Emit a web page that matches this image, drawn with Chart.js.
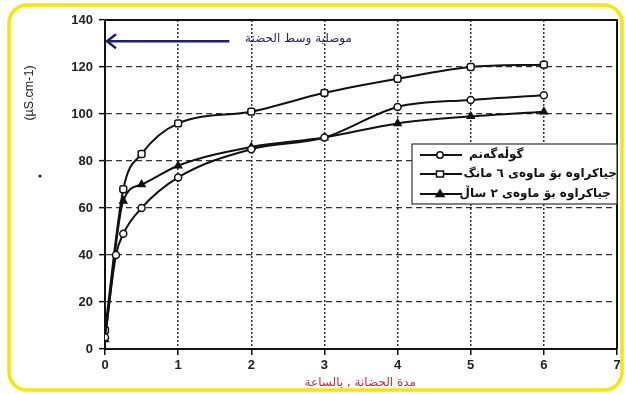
<!DOCTYPE html>
<html>
<head>
<meta charset="utf-8">
<script src="https://cdn.jsdelivr.net/npm/chart.js@4.4.1/dist/chart.umd.min.js"></script>
<style>
  html, body { margin: 0; padding: 0; background: #ffffff; }
  #wrap { width: 626px; height: 394px; }
</style>
</head>
<body>
<div id="wrap"><canvas id="c" width="626" height="394"></canvas></div>
<script>
// Incubation time (hours) against conductivity (µS.cm-1)
const seriesNames = ['گوڵەگەنم', 'جياكراوه بۆ ماوەی ٦ مانگ', 'جياكراوه بۆ ماوەی ٢ ساڵ'];

const wheatHours = [0, 0.15, 0.25, 0.5, 1, 2, 3, 4, 5, 6];
const wheatValues = [5, 40, 49, 60, 73, 85, 90, 103, 106, 108];

const sixMonthHours = [0, 0.25, 0.5, 1, 2, 3, 4, 5, 6];
const sixMonthValues = [8, 68, 83, 96, 101, 109, 115, 120, 121];

const twoYearHours = [0, 0.25, 0.5, 1, 2, 3, 4, 5, 6];
const twoYearValues = [4, 63, 70, 78, 86, 90, 96, 99, 101];

const xTicks = [0, 1, 2, 3, 4, 5, 6, 7];
const yTicks = [0, 20, 40, 60, 80, 100, 120, 140];

// conductivity of the incubation medium, marked by the arrow
const mediumLevel = 131;
const mediumArrowEnd = 1.7;
const mediumLabel = 'موصلية وسط الحضنة';
const xTitle = 'مدة الحضانة , بالساعة';
const yTitle = '(µS.cm-1)';

const pairs = (xs, ys) => xs.map((x, i) => ({ x: x, y: ys[i] }));

const lineBase = {
  borderColor: '#111',
  borderWidth: 2,
  pointBorderColor: '#111',
  pointBorderWidth: 1.5,
  pointRadius: 3.5,
  cubicInterpolationMode: 'monotone',
  fill: false
};

const datasets = [
  Object.assign({}, lineBase, {
    label: seriesNames[0], data: pairs(wheatHours, wheatValues),
    pointStyle: 'circle', pointBackgroundColor: '#fff'
  }),
  Object.assign({}, lineBase, {
    label: seriesNames[1], data: pairs(sixMonthHours, sixMonthValues),
    pointStyle: 'rectRounded', pointBackgroundColor: '#fff', pointRadius: 4
  }),
  Object.assign({}, lineBase, {
    label: seriesNames[2], data: pairs(twoYearHours, twoYearValues),
    pointStyle: 'triangle', pointBackgroundColor: '#111', pointRadius: 4
  })
];

function drawMarker(ctx, style, fill, x, y) {
  ctx.fillStyle = fill;
  ctx.strokeStyle = '#111';
  ctx.lineWidth = 1.5;
  ctx.beginPath();
  if (style === 'triangle') {
    ctx.moveTo(x, y - 4); ctx.lineTo(x + 4, y + 2.5); ctx.lineTo(x - 4, y + 2.5); ctx.closePath();
  } else if (style === 'circle') {
    ctx.arc(x, y, 3.2, 0, Math.PI * 2);
  } else {
    ctx.rect(x - 3.5, y - 3, 7, 6);
  }
  ctx.fill();
  ctx.stroke();
}

const decor = {
  id: 'decor',
  beforeDraw(chart) {
    const ctx = chart.ctx;
    ctx.save();
    ctx.fillStyle = '#fff';
    ctx.fillRect(0, 0, chart.width, chart.height);
    ctx.restore();
  },
  afterDraw(chart) {
    const ctx = chart.ctx;
    const a = chart.chartArea;
    const xs = chart.scales.x, ys = chart.scales.y;
    ctx.save();

    // frame: top and right edges of the plot
    ctx.strokeStyle = '#111';
    ctx.lineWidth = 2;
    ctx.beginPath();
    ctx.moveTo(a.left, a.top);
    ctx.lineTo(a.right, a.top);
    ctx.lineTo(a.right, a.bottom);
    ctx.stroke();

    // arrow for the medium conductivity
    const ay = ys.getPixelForValue(mediumLevel);
    const ax0 = xs.getPixelForValue(0) + 2;
    const ax1 = xs.getPixelForValue(mediumArrowEnd);
    ctx.strokeStyle = '#1c1f6b';
    ctx.lineWidth = 2.5;
    ctx.beginPath();
    ctx.moveTo(ax1, ay);
    ctx.lineTo(ax0, ay);
    ctx.stroke();
    ctx.beginPath();
    ctx.moveTo(ax0 + 9, ay - 7);
    ctx.lineTo(ax0, ay);
    ctx.lineTo(ax0 + 9, ay + 7);
    ctx.stroke();
    ctx.fillStyle = '#1c1f6b';
    ctx.font = '12px "DejaVu Sans"';
    ctx.textBaseline = 'middle';
    ctx.direction = 'rtl';
    ctx.textAlign = 'right';
    ctx.fillText(mediumLabel, 352, ay - 2);

    // y axis title
    ctx.direction = 'ltr';
    ctx.save();
    ctx.translate(30, 93);
    ctx.rotate(-Math.PI / 2);
    ctx.fillStyle = '#222';
    ctx.font = '12.5px "Liberation Sans"';
    ctx.textAlign = 'center';
    ctx.fillText(yTitle, 0, 0);
    ctx.restore();
    ctx.fillStyle = '#222';
    ctx.beginPath();
    ctx.arc(40, 176, 1.6, 0, Math.PI * 2);
    ctx.fill();

    // x axis title
    ctx.fillStyle = '#cc2b2f';
    ctx.font = '12px "DejaVu Sans"';
    ctx.direction = 'rtl';
    ctx.textAlign = 'right';
    ctx.textBaseline = 'middle';
    ctx.fillText(xTitle, 416, 383);

    // legend
    ctx.direction = 'ltr';
    ctx.strokeStyle = '#333';
    ctx.lineWidth = 1.2;
    ctx.fillStyle = '#fff';
    ctx.fillRect(412, 144, 205, 60);
    ctx.strokeRect(412, 144, 205, 60);
    const rows = [155, 174, 194];
    chart.data.datasets.forEach((ds, i) => {
      const y = rows[i];
      ctx.strokeStyle = '#111';
      ctx.lineWidth = 2;
      ctx.beginPath();
      ctx.moveTo(420, y);
      ctx.lineTo(462, y);
      ctx.stroke();
      drawMarker(ctx, ds.pointStyle, ds.pointBackgroundColor, 440, y);
    });
    ctx.fillStyle = '#fff';
    ctx.fillRect(465, 145, 151, 58);
    ctx.fillStyle = '#111';
    ctx.font = 'bold 12px "DejaVu Sans"';
    ctx.direction = 'rtl';
    ctx.textBaseline = 'middle';
    ctx.textAlign = 'right';
    ctx.fillText(seriesNames[0], 469 + ctx.measureText(seriesNames[0]).width, rows[0]);
    ctx.fillText(seriesNames[1], 617, rows[1]);
    ctx.fillText(seriesNames[2], 611, rows[2]);

    // yellow rounded border around the figure
    ctx.direction = 'ltr';
    ctx.strokeStyle = '#f7e600';
    ctx.lineWidth = 3.5;
    ctx.beginPath();
    if (ctx.roundRect) {
      ctx.roundRect(9, 5, 613, 385, 18);
    } else {
      ctx.rect(9, 5, 613, 385);
    }
    ctx.stroke();
    ctx.restore();
  }
};

new Chart(document.getElementById('c'), {
  type: 'line',
  data: { datasets: datasets },
  plugins: [decor],
  options: {
    responsive: false,
    animation: false,
    events: [],
    layout: { padding: { left: 0, top: 20, right: 9, bottom: 0 } },
    plugins: { legend: { display: false }, tooltip: { enabled: false } },
    scales: {
      x: {
        type: 'linear', min: 0, max: 7,
        afterBuildTicks: s => { s.ticks = xTicks.map(v => ({ value: v })); },
        afterFit: s => { s.height = 45; },
        border: { display: true, color: '#111', width: 2, dash: [2, 2] },
        grid: {
          color: '#333', lineWidth: 1.5,
          tickBorderDash: [], tickLength: 6, tickColor: '#111', tickWidth: 1.5
        },
        ticks: { color: '#222', font: { family: 'Liberation Sans', size: 13, weight: 'bold' }, padding: 3, maxRotation: 0 }
      },
      y: {
        type: 'linear', min: 0, max: 140,
        afterBuildTicks: s => { s.ticks = yTicks.map(v => ({ value: v })); },
        afterFit: s => { s.width = 105; },
        border: { display: true, color: '#111', width: 2, dash: [6, 4] },
        grid: {
          color: '#333', lineWidth: 1.3,
          tickBorderDash: [], tickLength: 6, tickColor: '#111', tickWidth: 1.5
        },
        ticks: { color: '#222', font: { family: 'Liberation Sans', size: 13, weight: 'bold' }, padding: 6 }
      }
    }
  }
});
</script>
</body>
</html>
